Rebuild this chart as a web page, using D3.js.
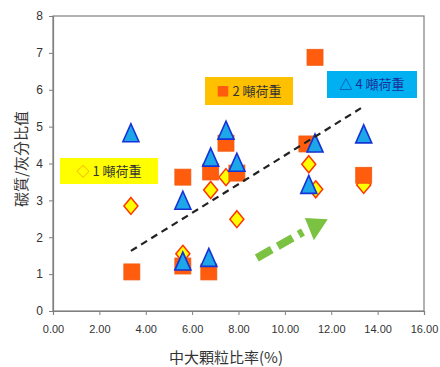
<!DOCTYPE html>
<html>
<head>
<meta charset="utf-8">
<script src="https://cdn.jsdelivr.net/npm/d3@7"></script>
<style>
  html, body { margin: 0; padding: 0; background: #fff; }
  svg { display: block; }
</style>
</head>
<body>
<svg id="chart" width="440" height="367"></svg>
<script>
// Axis ticks
const xTicks = [0, 2, 4, 6, 8, 10, 12, 14, 16];
const yTicks = [0, 1, 2, 3, 4, 5, 6, 7, 8];

// 1 噸荷重 (diamonds)
const load1X = [3.36, 5.6, 6.8, 7.46, 7.93, 11.03, 11.33, 13.4];
const load1Y = [2.85, 1.55, 3.28, 3.63, 2.49, 3.98, 3.3, 3.42];

// 2 噸荷重 (squares)
const load2X = [3.4, 5.6, 5.6, 6.72, 6.8, 7.46, 7.93, 10.95, 11.3, 13.4];
const load2Y = [1.06, 3.63, 1.22, 1.06, 3.77, 4.55, 3.74, 4.53, 6.88, 3.68];

// 4 噸荷重 (triangles)
const load4X = [3.36, 5.6, 5.6, 6.72, 6.8, 7.46, 7.93, 11.03, 11.3, 13.4];
const load4Y = [4.78, 2.95, 1.3, 1.4, 4.12, 4.85, 3.98, 3.38, 4.5, 4.75];

// Dashed trend line end points
const trendX = [3.36, 13.28];
const trendY = [1.63, 5.5];

// Green arrow: dashed shaft and head (data units)
const arrowShaftX = [8.79, 10.78];
const arrowShaftY = [1.44, 2.14];
const arrowHeadX = [10.86, 11.85, 11.25];
const arrowHeadY = [2.52, 2.49, 1.92];

const W = 440, H = 367;
const margin = { top: 16, right: 16, bottom: 56, left: 53 };
const svg = d3.select("#chart");

const x = d3.scaleLinear().domain([0, 16]).range([margin.left, W - margin.right]);
const y = d3.scaleLinear().domain([0, 8]).range([H - margin.bottom, margin.top]);

const tickFont = "'Liberation Sans', Arial, sans-serif";
const cjkFont = "'Noto Sans CJK TC', 'Noto Sans CJK SC', sans-serif";

// Plot frame
svg.append("rect")
  .attr("x", x(0)).attr("y", y(8))
  .attr("width", x(16) - x(0)).attr("height", y(0) - y(8))
  .attr("fill", "#fff").attr("stroke", "#7f7f7f").attr("stroke-width", 1.2);

// X axis
const xAxis = svg.append("g")
  .attr("transform", `translate(0,${y(0)})`)
  .call(d3.axisBottom(x).tickValues(xTicks).tickSize(4).tickPadding(10)
    .tickFormat(d3.format(".2f")));
xAxis.select(".domain").attr("stroke", "#7f7f7f").attr("stroke-width", 1.2);
xAxis.selectAll(".tick line").attr("stroke", "#7f7f7f");
xAxis.selectAll("text").attr("font-family", tickFont).attr("font-size", 11).attr("fill", "#333");

// Y axis
const yAxis = svg.append("g")
  .attr("transform", `translate(${x(0)},0)`)
  .call(d3.axisLeft(y).tickValues(yTicks).tickSize(4).tickPadding(6)
    .tickFormat(d3.format("d")));
yAxis.select(".domain").attr("stroke", "#7f7f7f").attr("stroke-width", 1.2);
yAxis.selectAll(".tick line").attr("stroke", "#7f7f7f");
yAxis.selectAll("text").attr("font-family", tickFont).attr("font-size", 12).attr("fill", "#333");

// Axis titles
svg.append("text")
  .attr("x", 226).attr("y", 363)
  .attr("text-anchor", "middle")
  .attr("font-family", cjkFont).attr("font-size", 15).attr("fill", "#333")
  .text("中大顆粒比率(%)");
svg.append("text")
  .attr("transform", "translate(27,159) rotate(-90)")
  .attr("text-anchor", "middle")
  .attr("font-family", cjkFont).attr("font-size", 15).attr("fill", "#333")
  .text("碳質/灰分比值");

// Series markers
const diamond = (cx, cy) => `M${cx},${cy - 8.5}L${cx + 7},${cy}L${cx},${cy + 8.5}L${cx - 7},${cy}Z`;
const triangle = (cx, cy) => `M${cx},${cy - 11}L${cx + 8},${cy + 7}L${cx - 8},${cy + 7}Z`;

svg.append("g").selectAll("path")
  .data(d3.range(load1X.length))
  .join("path")
  .attr("d", i => diamond(x(load1X[i]), y(load1Y[i])))
  .attr("fill", "#ffff00").attr("stroke", "#ff3300").attr("stroke-width", 1.5)
  .attr("stroke-linejoin", "miter");

svg.append("g").selectAll("rect")
  .data(d3.range(load2X.length))
  .join("rect")
  .attr("x", i => x(load2X[i]) - 8).attr("y", i => y(load2Y[i]) - 8)
  .attr("width", 16).attr("height", 16)
  .attr("fill", "#ff5d0d").attr("stroke", "#f05a10").attr("stroke-width", 0.8);

svg.append("g").selectAll("path")
  .data(d3.range(load4X.length))
  .join("path")
  .attr("d", i => triangle(x(load4X[i]), y(load4Y[i])))
  .attr("fill", "#1ea7e8").attr("stroke", "#1533d6").attr("stroke-width", 1.6)
  .attr("stroke-linejoin", "miter");

// Trend line
svg.append("line")
  .attr("x1", x(trendX[0])).attr("y1", y(trendY[0]))
  .attr("x2", x(trendX[1])).attr("y2", y(trendY[1]))
  .attr("stroke", "#222").attr("stroke-width", 2.2)
  .attr("stroke-dasharray", "7,5");

// Green arrow
svg.append("line")
  .attr("x1", x(arrowShaftX[0])).attr("y1", y(arrowShaftY[0]))
  .attr("x2", x(arrowShaftX[1])).attr("y2", y(arrowShaftY[1]))
  .attr("stroke", "#7cc242").attr("stroke-width", 8)
  .attr("stroke-dasharray", "17,7");
svg.append("path")
  .attr("d", "M" + arrowHeadX.map((v, i) => `${x(v)},${y(arrowHeadY[i])}`).join("L") + "Z")
  .attr("fill", "#7cc242");

// Series label boxes
function labelBox(x0, y0, w, h, fill, parts) {
  const g = svg.append("g");
  g.append("rect").attr("x", x0).attr("y", y0).attr("width", w).attr("height", h).attr("fill", fill);
  const t = g.append("text")
    .attr("x", x0 + w / 2).attr("y", y0 + h / 2)
    .attr("dy", "0.35em").attr("text-anchor", "middle")
    .attr("font-family", cjkFont).attr("font-size", 13);
  parts.forEach(p => t.append("tspan").attr("fill", p.c).text(p.t));
}
labelBox(60, 158, 98, 26, "#ffff00", [
  { t: "◇", c: "#f2a000" }, { t: " 1 噸荷重", c: "#333" }
]);
labelBox(205, 77, 88, 28, "#ffc000", [
  { t: "■", c: "#ff5d0d" }, { t: " 2 噸荷重", c: "#333" }
]);
labelBox(327, 71, 90, 27, "#00b0f0", [
  { t: "△ 4 噸荷重", c: "#1a2f9a" }
]);
</script>
</body>
</html>
